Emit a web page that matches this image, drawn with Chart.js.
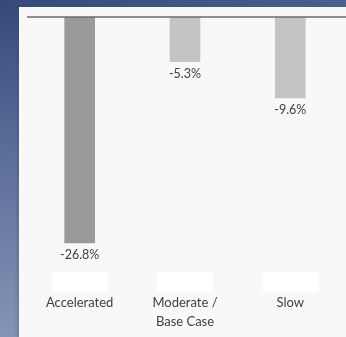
<!DOCTYPE html>
<html>
<head>
<meta charset="utf-8">
<script src="https://cdn.jsdelivr.net/npm/chart.js@4/dist/chart.umd.min.js"></script>
<style>
  html, body { margin: 0; padding: 0; }
  body {
    width: 346px; height: 337px; overflow: hidden; position: relative;
    background: linear-gradient(165deg, #34497a 0%, #5a6d99 35%, #8191b4 75%, #93a2c0 100%);
  }
  #panel {
    position: absolute; left: 19px; top: 7px; width: 327px; height: 330px;
    background: #f8f8f9;
    box-shadow: -2px 0 3px rgba(60, 75, 110, 0.3);
  }
  canvas { display: block; }
</style>
</head>
<body>
<div id="panel"><canvas id="c" width="327" height="330"></canvas></div>
<script>
// Scenario categories (two-line label for the base case)
const categories = [["Accelerated"], ["Moderate /", "Base Case"], ["Slow"]];
// Change in value under each scenario, percent
const changePct = [-26.8, -5.3, -9.6];
const barColors = ["#9a9a9a", "#c4c4c4", "#c4c4c4"];

const FONT = "Lato, 'Liberation Sans', sans-serif";
const TEXT = "#404040";

// Zero line, value labels under each bar and blank label boxes
const annotate = {
  id: "annotate",
  beforeDatasetsDraw(chart) {
    const { ctx, chartArea, scales } = chart;
    ctx.save();
    ctx.fillStyle = "#ffffff";
    categories.forEach((_, i) => {
      const x = scales.x.getPixelForTick(i);
      ctx.fillRect(x - 28, chartArea.bottom + 2, 56, 20);
    });
    ctx.restore();
  },
  afterDatasetsDraw(chart) {
    const { ctx, chartArea, scales } = chart;
    ctx.save();
    const y0 = scales.y.getPixelForValue(0);
    ctx.strokeStyle = "#6b6b6b";
    ctx.lineWidth = 1.5;
    ctx.beginPath();
    ctx.moveTo(chartArea.left, y0);
    ctx.lineTo(chart.width, y0);
    ctx.stroke();

    ctx.fillStyle = TEXT;
    ctx.font = "12.5px " + FONT;
    ctx.textAlign = "center";
    ctx.textBaseline = "middle";
    chart.getDatasetMeta(0).data.forEach((bar, i) => {
      ctx.fillText(changePct[i].toFixed(1) + "%", bar.x, bar.y + 12);
    });
    ctx.restore();
  }
};

new Chart(document.getElementById("c"), {
  type: "bar",
  data: {
    labels: categories,
    datasets: [{
      data: changePct,
      backgroundColor: barColors,
      borderWidth: 0,
      barThickness: 30
    }]
  },
  options: {
    responsive: false,
    animation: false,
    layout: { padding: { top: 10, left: 8, right: 3, bottom: 0 } },
    plugins: { legend: { display: false }, tooltip: { enabled: false } },
    scales: {
      x: {
        grid: { display: false },
        border: { display: false },
        afterFit(scale) { scale.height = 67; },
        ticks: {
          color: TEXT,
          padding: 15,
          maxRotation: 0,
          font: { family: FONT, size: 13, lineHeight: "19px" }
        }
      },
      y: {
        display: false,
        min: -30,
        max: 0
      }
    }
  },
  plugins: [annotate]
});
</script>
</body>
</html>
